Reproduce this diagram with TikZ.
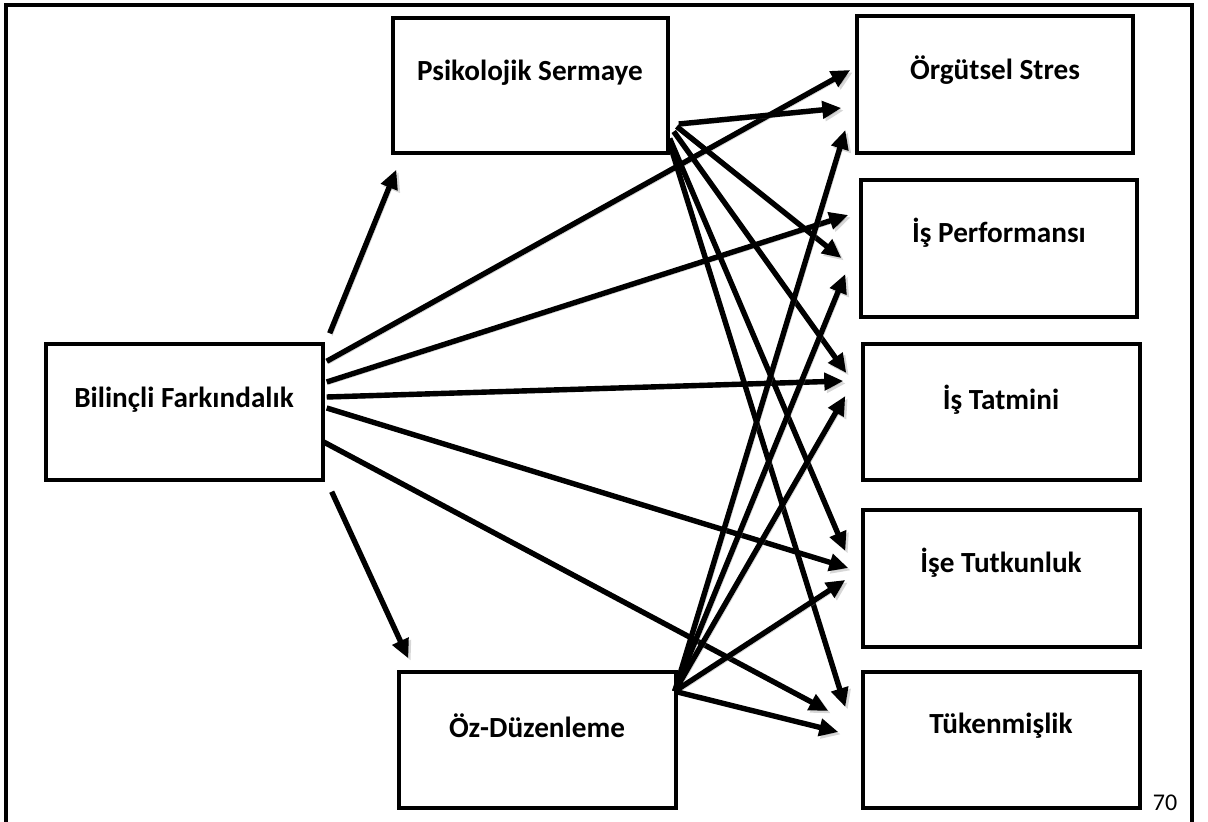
\documentclass[tikz,border=0pt]{standalone}
\usepackage{fontspec}
\setmainfont{Carlito}
\usetikzlibrary{arrows.meta,calc,fit}
\begin{document}
\begin{tikzpicture}[x=0.5pt,y=-0.5pt,
  box/.style={draw, line width=1.7pt, inner sep=0pt},
  lbl/.style={font=\fontsize{14.6pt}{17pt}\selectfont\bfseries, inner sep=0pt},
  link/.style={line width=2.7pt, -{Triangle[length=9.5pt,width=8.5pt]},
    preaction={draw=black!45, opacity=0.35, transform canvas={shift={(1.2pt,-1.2pt)}}}},
  frameline/.style={line width=1.6pt}]

\useasboundingbox (0,0) rectangle (1208,822);

% page frame, open at the bottom
\draw[frameline] (6,822) -- (6,5) -- (1192,5) -- (1192,822);
\node[anchor=base, font=\fontsize{12pt}{14pt}\selectfont, inner sep=0pt] (pageno) at (1165,810) {70};

% predictor and mediators
\node[box, fit={(46,344) (323,480)}] (bf) {};
\node[box, fit={(393,18) (668,153)}] (ps) {};
\node[box, fit={(399,672) (676,808)}] (od) {};

% outcomes
\node[box, fit={(857,16) (1133,153)}] (org) {};
\node[box, fit={(861,180) (1137,317)}] (perf) {};
\node[box, fit={(863,344) (1140,480)}] (tat) {};
\node[box, fit={(863,510) (1140,647)}] (tut) {};
\node[box, fit={(863,672) (1140,808)}] (tuk) {};

% labels
\node[lbl] (bfT) at (184,400) {Bilinçli Farkındalık};
\node[lbl] (psT) at (530,73) {Psikolojik Sermaye};
\node[lbl] (odT) at (537,726) {Öz-Düzenleme};
\node[lbl] (orgT) at (995,70) {Örgütsel Stres};
\node[lbl] (perfT) at (999,233) {İş Performansı};
\node[lbl] (tatT) at (1001,400) {İş Tatmini};
\node[lbl] (tutT) at (1001,563) {İşe Tutkunluk};
\node[lbl] (tukT) at (1001,726) {Tükenmişlik};

% paths from Bilinçli Farkındalık
\draw[link] ($(bf.north east)+(5,-9)$) -- ($(ps.south west)+(5,15)$);
\draw[link] ($(bf.south east)+(7,10)$) -- ($(od.north west)+(11,-12)$);
\draw[link] ($(bf.north east)+(2,19)$) -- ($(org.west)+(-5,-14.5)$);
\draw[link] ($(bf.east)+(2,-30)$) -- ($(perf.west)+(-11,-33.5)$);
\draw[link] ($(bf.east)+(2,-15)$) -- ($(tat.west)+(-18,-31)$);
\draw[link] ($(bf.east)+(2,-4)$) -- ($(tut.west)+(-13,-10.5)$);
\draw[link] ($(bf.east)+(-1,30)$) -- ($(tuk.west)+(-33,-29)$);

% paths from Psikolojik Sermaye
\draw[link] ($(ps.east)+(9,38.5)$) -- ($(org.west)+(-14,23.5)$);
\draw[link] ($(ps.east)+(7,41)$) -- ($(perf.west)+(-18,9.5)$);
\draw[link] ($(ps.east)+(4,46)$) -- ($(tat.west)+(-15,-39)$);
\draw[link] ($(ps.east)+(0,53)$) -- ($(tut.west)+(-16,-27.5)$);
\draw[link] ($(ps.east)+(-1,55)$) -- ($(tuk.west)+(-16,-33)$);

% paths from Öz-Düzenleme
\draw[link] ($(od.north east)+(-3,21)$) -- ($(org.west)+(-10,45.5)$);
\draw[link] ($(od.north east)+(-3,21)$) -- ($(perf.west)+(-14,25.5)$);
\draw[link] ($(od.north east)+(-3,21)$) -- ($(tat.west)+(-16,-16)$);
\draw[link] ($(od.north east)+(-3,21)$) -- ($(tut.west)+(-16,1.5)$);
\draw[link] ($(od.north east)+(-3,21)$) -- ($(tuk.west)+(-23,-8)$);

\end{tikzpicture}
\end{document}
